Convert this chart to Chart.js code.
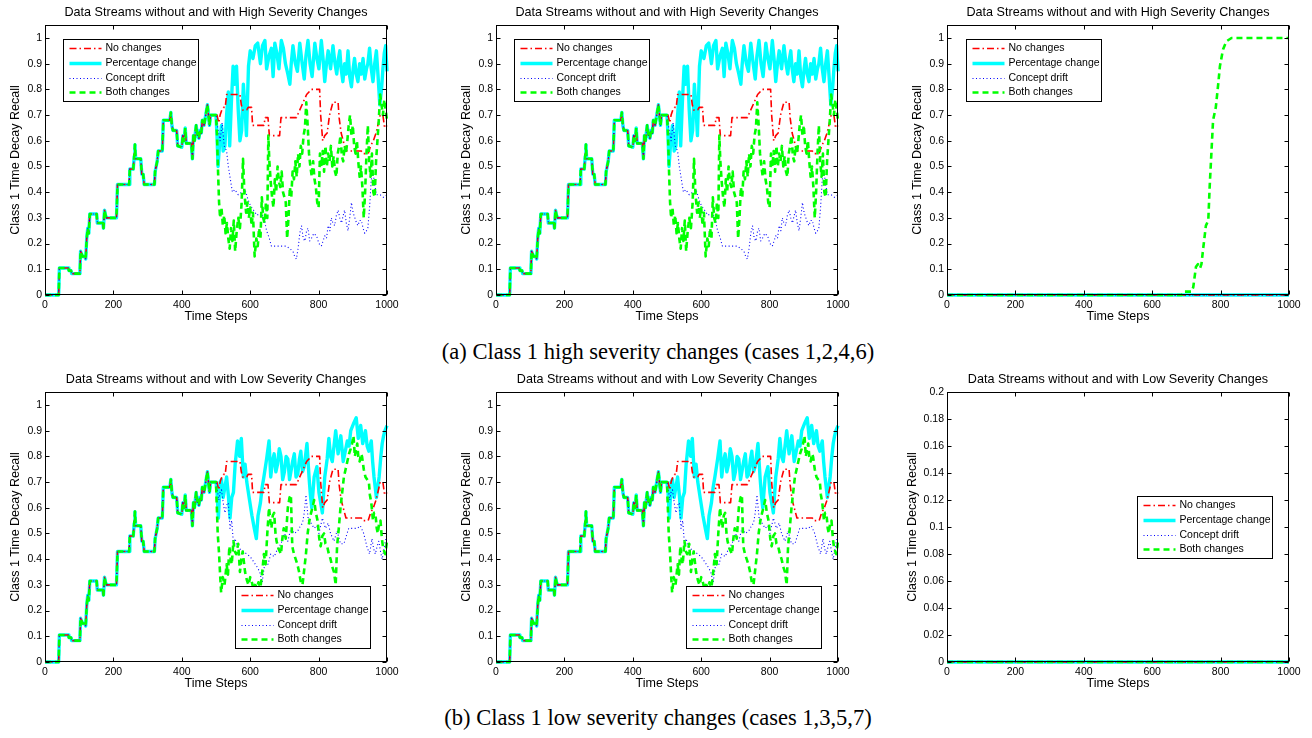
<!DOCTYPE html>
<html><head><meta charset="utf-8">
<script src="https://cdn.jsdelivr.net/npm/chart.js@4.4.0/dist/chart.umd.min.js"></script>
<style>
html,body{margin:0;padding:0;background:#fff;width:1312px;height:738px;overflow:hidden;position:relative}
canvas{position:absolute}
.cap{position:absolute;left:2px;width:1312px;text-align:center;font-family:"Liberation Serif","Times New Roman",serif;font-size:22.5px;color:#000;line-height:24px;white-space:nowrap}
</style></head><body>
<canvas id="c1"></canvas><canvas id="c2"></canvas><canvas id="c3"></canvas>
<canvas id="c4"></canvas><canvas id="c5"></canvas><canvas id="c6"></canvas>
<div class="cap" id="capA" style="top:340px"></div>
<div class="cap" id="capB" style="top:706px"></div>
<script>
// ---------------- DATA ----------------
const seriesNames = ['No changes','Percentage change','Concept drift','Both changes'];
const titleHigh = 'Data Streams without and with High Severity Changes';
const titleLow = 'Data Streams without and with Low Severity Changes';
const xTitle = 'Time Steps';
const yTitle = 'Class 1 Time Decay Recall';
const captionA = '(a) Class 1 high severity changes (cases 1,2,4,6)';
const captionB = '(b) Class 1 low severity changes (cases 1,3,5,7)';
const xTicks = [0,200,400,600,800,1000];
const yTicksMain = [0,0.1,0.2,0.3,0.4,0.5,0.6,0.7,0.8,0.9,1];
const yTicksSmall = [0,0.02,0.04,0.06,0.08,0.1,0.12,0.14,0.16,0.18,0.2];

// shared trajectory of all four streams, steps 0..500
const baseTrack = [[0,0],[40,0],[42,0.105],[68,0.105],[70,0.095],[76,0.095],[78,0.083],[102,0.083],[104,0.17],[107,0.16],[110,0.15],[117,0.15],[119,0.14],[122,0.22],[125,0.26],[128,0.24],[131,0.315],[151,0.315],[153,0.28],[169,0.28],[171,0.26],[174,0.33],[177,0.31],[180,0.3],[209,0.3],[212,0.43],[246,0.43],[248,0.49],[258,0.49],[261,0.54],[263,0.585],[265,0.53],[280,0.53],[283,0.47],[287,0.47],[290,0.43],[320,0.43],[322,0.48],[325,0.5],[328,0.52],[331,0.56],[343,0.56],[346,0.68],[365,0.68],[368,0.71],[371,0.66],[374,0.64],[385,0.64],[388,0.58],[400,0.575],[403,0.62],[407,0.6],[410,0.65],[413,0.59],[428,0.59],[431,0.53],[434,0.62],[437,0.6],[442,0.66],[446,0.62],[450,0.61],[453,0.64],[457,0.63],[460,0.68],[465,0.66],[470,0.7],[475,0.74],[478,0.7],[481,0.66],[484,0.7],[500,0.7]];

// No changes (same in high and low)
const noChangeTail = [[503,0.70],[508,0.67],[512,0.70],[517,0.72],[522,0.73],[527,0.73],[531,0.78],[570,0.78],[574,0.74],[578,0.72],[590,0.72],[594,0.73],[604,0.73],[607,0.66],[640,0.66],[644,0.69],[652,0.69],[656,0.62],[686,0.62],[690,0.69],[735,0.69],[745,0.72],[755,0.75],[765,0.78],[779,0.80],[803,0.80],[806,0.70],[812,0.60],[818,0.62],[825,0.63],[832,0.70],[842,0.75],[857,0.75],[860,0.69],[866,0.63],[872,0.60],[880,0.56],[925,0.56],[930,0.55],[945,0.55],[952,0.58],[960,0.60],[968,0.63],[975,0.67],[980,0.70],[988,0.70],[993,0.65],[1000,0.66]];

// High severity
const pctHighTail = [[503,0.62],[506,0.50],[511,0.60],[516,0.66],[521,0.56],[526,0.58],[531,0.70],[536,0.79],[540,0.58],[545,0.75],[550,0.89],[555,0.82],[560,0.89],[565,0.72],[570,0.60],[575,0.64],[580,0.82],[585,0.72],[589,0.62],[595,0.89],[600,0.95],[608,0.92],[615,0.97],[622,0.98],[630,0.90],[636,0.97],[643,0.99],[648,0.88],[655,0.93],[662,0.96],[667,0.85],[672,0.98],[678,0.94],[684,0.88],[691,0.99],[697,0.96],[703,0.90],[710,0.86],[716,0.82],[720,0.90],[725,0.97],[732,0.90],[738,0.87],[745,0.98],[752,0.90],[758,0.84],[763,0.93],[769,0.99],[775,0.90],[781,0.85],[789,0.98],[795,0.92],[801,0.88],[808,0.99],[813,0.92],[818,0.83],[823,0.90],[828,0.95],[835,0.88],[842,0.97],[848,0.90],[853,0.86],[858,0.92],[862,0.95],[866,0.88],[871,0.83],[876,0.90],[881,0.86],[886,0.95],[891,0.85],[896,0.81],[901,0.88],[905,0.92],[910,0.86],[915,0.83],[920,0.90],[925,0.86],[930,0.92],[935,0.84],[940,0.88],[944,0.90],[949,0.96],[954,0.88],[959,0.83],[964,0.90],[969,0.95],[974,0.85],[979,0.74],[984,0.80],[988,0.88],[992,0.94],[996,0.97],[1000,0.87]];
const driftHighTail = [[505,0.65],[512,0.60],[518,0.67],[524,0.58],[531,0.56],[536,0.50],[542,0.45],[548,0.40],[555,0.41],[565,0.39],[575,0.40],[585,0.41],[594,0.37],[600,0.35],[610,0.33],[620,0.31],[630,0.32],[640,0.30],[648,0.25],[656,0.22],[662,0.19],[680,0.19],[695,0.19],[706,0.19],[716,0.18],[725,0.17],[730,0.15],[735,0.14],[740,0.18],[745,0.24],[750,0.27],[755,0.22],[760,0.21],[765,0.25],[769,0.26],[774,0.21],[779,0.22],[786,0.24],[794,0.23],[801,0.20],[808,0.19],[813,0.21],[818,0.23],[823,0.22],[828,0.27],[833,0.25],[837,0.30],[842,0.28],[847,0.27],[852,0.31],[857,0.33],[862,0.30],[867,0.28],[872,0.31],[876,0.33],[881,0.28],[886,0.25],[891,0.30],[896,0.36],[901,0.32],[906,0.30],[911,0.28],[915,0.27],[920,0.29],[925,0.29],[930,0.26],[935,0.24],[940,0.25],[944,0.26],[949,0.34],[954,0.45],[959,0.48],[964,0.43],[969,0.39],[980,0.39],[990,0.38],[1000,0.39]];
const bothHighTail = [[503,0.62],[506,0.48],[509,0.36],[512,0.30],[516,0.34],[520,0.27],[524,0.31],[528,0.24],[532,0.28],[536,0.22],[540,0.18],[544,0.26],[548,0.21],[552,0.29],[556,0.17],[560,0.24],[565,0.30],[570,0.26],[575,0.36],[579,0.53],[583,0.40],[588,0.32],[592,0.36],[596,0.30],[600,0.34],[604,0.27],[608,0.32],[613,0.15],[618,0.22],[622,0.19],[626,0.26],[630,0.22],[634,0.38],[638,0.30],[642,0.28],[646,0.36],[650,0.30],[653,0.62],[656,0.52],[660,0.44],[664,0.38],[668,0.34],[672,0.45],[676,0.40],[680,0.50],[684,0.44],[688,0.42],[692,0.48],[696,0.40],[700,0.38],[704,0.36],[708,0.22],[712,0.30],[716,0.42],[720,0.38],[724,0.48],[728,0.45],[732,0.52],[736,0.46],[740,0.55],[744,0.50],[748,0.58],[752,0.55],[756,0.62],[760,0.65],[764,0.75],[768,0.66],[772,0.55],[776,0.50],[780,0.46],[784,0.52],[788,0.45],[792,0.42],[796,0.36],[800,0.34],[804,0.55],[808,0.50],[812,0.56],[816,0.48],[820,0.58],[824,0.50],[828,0.55],[832,0.52],[836,0.58],[840,0.50],[844,0.54],[848,0.48],[852,0.46],[856,0.55],[860,0.58],[864,0.62],[868,0.54],[872,0.52],[876,0.58],[880,0.55],[884,0.60],[888,0.66],[892,0.70],[896,0.62],[900,0.66],[904,0.58],[908,0.55],[912,0.60],[916,0.52],[920,0.46],[924,0.50],[928,0.42],[932,0.30],[936,0.40],[940,0.55],[944,0.66],[948,0.52],[952,0.46],[956,0.55],[960,0.40],[964,0.38],[968,0.52],[972,0.60],[976,0.68],[980,0.78],[984,0.74],[988,0.70],[992,0.76],[996,0.72],[1000,0.68]];

// Low severity
const pctLowTail = [[503,0.66],[507,0.56],[512,0.70],[516,0.71],[521,0.64],[526,0.68],[531,0.72],[536,0.65],[541,0.56],[546,0.64],[551,0.66],[556,0.77],[563,0.86],[569,0.80],[574,0.87],[580,0.72],[585,0.77],[590,0.70],[598,0.63],[605,0.57],[612,0.52],[618,0.48],[623,0.57],[630,0.62],[635,0.68],[640,0.72],[648,0.79],[655,0.86],[660,0.72],[665,0.78],[670,0.81],[675,0.74],[680,0.77],[685,0.83],[690,0.80],[695,0.71],[700,0.74],[705,0.80],[710,0.79],[715,0.71],[719,0.74],[724,0.78],[729,0.81],[734,0.72],[739,0.73],[744,0.79],[748,0.82],[753,0.74],[758,0.76],[766,0.85],[772,0.72],[776,0.65],[780,0.60],[787,0.72],[795,0.76],[801,0.66],[806,0.62],[811,0.58],[818,0.72],[825,0.79],[830,0.87],[835,0.80],[840,0.78],[845,0.84],[850,0.90],[857,0.81],[865,0.88],[872,0.78],[878,0.82],[884,0.86],[889,0.84],[894,0.90],[903,0.93],[910,0.95],[916,0.87],[923,0.92],[929,0.85],[937,0.90],[942,0.84],[947,0.82],[954,0.86],[958,0.78],[962,0.72],[969,0.64],[973,0.68],[977,0.72],[982,0.80],[986,0.85],[990,0.88],[994,0.90],[1000,0.92]];
const driftLowTail = [[503,0.68],[508,0.63],[512,0.66],[516,0.67],[521,0.62],[526,0.58],[531,0.61],[536,0.62],[541,0.52],[546,0.55],[551,0.46],[556,0.48],[561,0.45],[570,0.44],[580,0.43],[590,0.42],[600,0.41],[610,0.39],[620,0.37],[628,0.35],[635,0.31],[640,0.36],[645,0.40],[652,0.38],[660,0.42],[670,0.41],[680,0.44],[690,0.46],[700,0.50],[710,0.47],[719,0.52],[729,0.50],[739,0.51],[747,0.53],[753,0.54],[758,0.58],[763,0.65],[770,0.55],[778,0.54],[787,0.52],[795,0.53],[801,0.50],[806,0.53],[811,0.56],[820,0.52],[828,0.54],[835,0.50],[845,0.47],[854,0.51],[860,0.48],[864,0.46],[874,0.46],[881,0.49],[888,0.52],[900,0.52],[913,0.52],[922,0.53],[932,0.50],[941,0.45],[949,0.42],[956,0.48],[961,0.44],[966,0.42],[971,0.45],[976,0.47],[981,0.43],[986,0.40],[991,0.44],[995,0.47],[1000,0.50]];
const bothLowTail = [[502,0.62],[505,0.50],[509,0.42],[512,0.34],[515,0.27],[520,0.33],[525,0.30],[531,0.38],[535,0.34],[539,0.45],[543,0.40],[546,0.38],[551,0.47],[555,0.43],[559,0.42],[565,0.46],[570,0.35],[574,0.40],[578,0.43],[585,0.35],[590,0.32],[595,0.30],[600,0.33],[605,0.31],[610,0.28],[614,0.30],[620,0.29],[624,0.31],[630,0.29],[636,0.36],[640,0.42],[645,0.38],[650,0.50],[655,0.60],[659,0.55],[662,0.52],[666,0.57],[670,0.58],[674,0.50],[677,0.47],[683,0.44],[690,0.42],[694,0.48],[698,0.52],[704,0.48],[710,0.60],[715,0.64],[719,0.65],[723,0.45],[728,0.42],[733,0.40],[738,0.38],[743,0.35],[748,0.31],[753,0.30],[758,0.36],[763,0.42],[768,0.50],[773,0.55],[778,0.58],[782,0.60],[787,0.63],[792,0.58],[797,0.55],[802,0.48],[806,0.45],[811,0.49],[816,0.50],[820,0.46],[825,0.45],[830,0.42],[835,0.40],[840,0.37],[845,0.35],[850,0.30],[854,0.45],[859,0.52],[864,0.60],[869,0.66],[874,0.72],[879,0.75],[884,0.78],[889,0.81],[894,0.83],[898,0.85],[902,0.88],[906,0.80],[910,0.83],[913,0.85],[916,0.80],[920,0.78],[924,0.81],[927,0.80],[932,0.75],[937,0.72],[942,0.71],[947,0.70],[950,0.65],[954,0.62],[959,0.55],[962,0.58],[966,0.58],[970,0.52],[973,0.50],[977,0.54],[981,0.55],[985,0.48],[988,0.45],[992,0.43],[995,0.42],[1000,0.47]];

// third column: only "Both changes" rises (high), all stay at zero (low)
const zeroLine = [[0,0],[1000,0]];
const bothHighCol3 = [[0,0],[686,0],[691,0.013],[715,0.013],[720,0.03],[728,0.11],[734,0.12],[740,0.105],[744,0.12],[749,0.18],[757,0.27],[764,0.29],[768,0.42],[773,0.55],[778,0.68],[786,0.73],[793,0.82],[798,0.89],[807,0.955],[817,0.987],[832,1.0],[1000,1.0]];

// ---------------- STYLES ----------------
Chart.defaults.font.family = '"Liberation Sans", Arial, Helvetica, sans-serif';
Chart.defaults.color = '#000';
const lineStyles = [
  {borderColor:'#ff0000', borderWidth:1.6, borderDash:[7,3,1.5,3], order:3},
  {borderColor:'#00ffff', borderWidth:3.4, borderDash:[], order:4},
  {borderColor:'#0000ff', borderWidth:1.1, borderDash:[1,2.5], order:2},
  {borderColor:'#00ff00', borderWidth:2.6, borderDash:[6,4], order:1}
];

const axesBox = {
  id:'axesBox',
  afterDatasetsDraw(chart){
    const {ctx, chartArea:a, scales:{x,y}} = chart;
    ctx.save();
    ctx.strokeStyle='#000'; ctx.lineWidth=1; ctx.setLineDash([]);
    const L=Math.round(a.left)+0.5, R=Math.round(a.right)-0.5, T=Math.round(a.top)+0.5, B=Math.round(a.bottom)-0.5;
    ctx.strokeRect(L,T,R-L,B-T);
    ctx.beginPath();
    x.ticks.forEach(t=>{const px=Math.round(x.getPixelForValue(t.value))+0.5; ctx.moveTo(px,B); ctx.lineTo(px,B-4); ctx.moveTo(px,T); ctx.lineTo(px,T+4);});
    y.ticks.forEach(t=>{const py=Math.round(y.getPixelForValue(t.value))+0.5; ctx.moveTo(L,py); ctx.lineTo(L+4,py); ctx.moveTo(R,py); ctx.lineTo(R-4,py);});
    ctx.stroke();
    ctx.restore();
  }
};
const boxLegend = {
  id:'boxLegend',
  afterDraw(chart, args, o){
    const {ctx, chartArea:a} = chart;
    const x0=Math.round(a.left+o.x)+0.5, y0=Math.round(a.top+o.y)+0.5, w=135, h=62;
    const rows=[9,24,39,53];
    ctx.save();
    ctx.fillStyle='#fff'; ctx.fillRect(x0,y0,w,h);
    ctx.strokeStyle='#000'; ctx.lineWidth=1; ctx.setLineDash([]); ctx.strokeRect(x0,y0,w,h);
    chart.data.datasets.forEach((ds,i)=>{
      const yy=y0+rows[i];
      ctx.strokeStyle=ds.borderColor; ctx.lineWidth=ds.borderWidth; ctx.setLineDash(ds.borderDash);
      ctx.beginPath(); ctx.moveTo(x0+6,yy); ctx.lineTo(x0+38,yy); ctx.stroke();
      ctx.setLineDash([]);
      ctx.fillStyle='#000'; ctx.font='10.5px "Liberation Sans", Arial, sans-serif'; ctx.textBaseline='middle'; ctx.textAlign='left';
      ctx.fillText(ds.label, x0+42, yy);
    });
    ctx.restore();
  }
};

const pts = arr => arr.map(p=>({x:p[0], y:p[1]}));

function makeChart(id, box, title, seriesData, yMax, yTicks, legendPos, yTitlePad){
  const cv=document.getElementById(id);
  const W=box.r-box.l+45+20, H=box.b-box.t+25+40;
  cv.width=W; cv.height=H; cv.style.width=W+'px'; cv.style.height=H+'px';
  cv.style.left=(box.l-45)+'px'; cv.style.top=(box.t-25)+'px';
  const datasets=seriesData.map((d,i)=>Object.assign({
    label:seriesNames[i], data:pts(d), pointRadius:0, fill:false, tension:0,
    borderCapStyle:'butt', borderJoinStyle:'round', clip:4
  }, lineStyles[i]));
  new Chart(cv,{
    type:'line',
    data:{datasets},
    options:{
      responsive:false, animation:false, devicePixelRatio:1,
      layout:{padding:{left:0,top:0,right:20,bottom:0}},
      plugins:{
        legend:{display:false}, tooltip:{enabled:false},
        title:{display:true, fullSize:false, text:title, font:{size:12.6, weight:'normal'}, color:'#000', padding:{top:5.4,bottom:4.6}},
        boxLegend:legendPos
      },
      scales:{
        x:{type:'linear', min:0, max:1000,
          afterBuildTicks:s=>{s.ticks=xTicks.map(v=>({value:v}));},
          afterFit:s=>{s.height=40;},
          grid:{display:false, drawTicks:false}, border:{display:false},
          ticks:{font:{size:10.5}, color:'#000', padding:3.5, maxRotation:0, autoSkip:false, callback:v=>String(v)},
          title:{display:true, text:xTitle, font:{size:12.5}, color:'#000', padding:{top:0,bottom:10.8}}
        },
        y:{type:'linear', min:0, max:yMax,
          afterBuildTicks:s=>{s.ticks=yTicks.map(v=>({value:v}));},
          afterFit:s=>{s.width=45;},
          grid:{display:false, drawTicks:false}, border:{display:false},
          ticks:{font:{size:10.5}, color:'#000', padding:3, autoSkip:false, callback:v=>String(v)},
          title:{display:true, text:yTitle, font:{size:12.5}, color:'#000', padding:{top:yTitlePad,bottom:0}}
        }
      }
    },
    plugins:[axesBox, boxLegend]
  });
}

const full = t => baseTrack.concat(t);
makeChart('c1',{l:45,r:387,t:25,b:295},titleHigh,[full(noChangeTail),full(pctHighTail),full(driftHighTail),full(bothHighTail)],1.05,yTicksMain,{x:18,y:14},7.8);
makeChart('c2',{l:496,r:838,t:25,b:295},titleHigh,[full(noChangeTail),full(pctHighTail),full(driftHighTail),full(bothHighTail)],1.05,yTicksMain,{x:18,y:14},7.8);
makeChart('c3',{l:947,r:1289,t:25,b:295},titleHigh,[zeroLine,zeroLine,zeroLine,bothHighCol3],1.05,yTicksMain,{x:19,y:14},7.8);
makeChart('c4',{l:45,r:387,t:392,b:662},titleLow,[full(noChangeTail),full(pctLowTail),full(driftLowTail),full(bothLowTail)],1.05,yTicksMain,{x:190,y:194},7.8);
makeChart('c5',{l:496,r:838,t:392,b:662},titleLow,[full(noChangeTail),full(pctLowTail),full(driftLowTail),full(bothLowTail)],1.05,yTicksMain,{x:190,y:194},7.8);
makeChart('c6',{l:947,r:1289,t:392,b:662},titleLow,[zeroLine,zeroLine,zeroLine,zeroLine],0.2,yTicksSmall,{x:190,y:104},2.8);

document.getElementById('capA').textContent=captionA;
document.getElementById('capB').textContent=captionB;
</script>
</body></html>
